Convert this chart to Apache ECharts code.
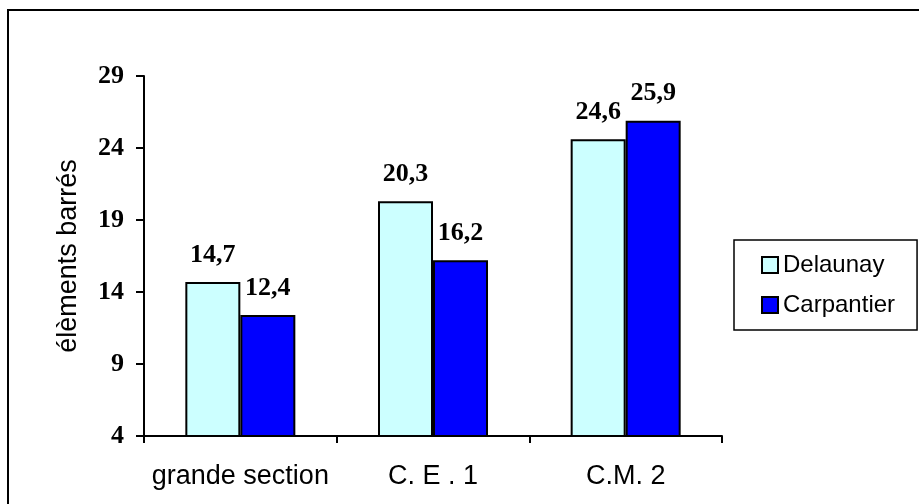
<!DOCTYPE html>
<html>
<head>
<meta charset="utf-8">
<script src="https://cdn.jsdelivr.net/npm/echarts@6/dist/echarts.min.js"></script>
<style>
  html, body { margin: 0; padding: 0; background: #fff; }
  #chart { width: 919px; height: 504px; }
</style>
</head>
<body>
<div id="chart"></div>
<script>
// Classes and results per group
var categories = ['grande section', 'C. E . 1', 'C.M. 2'];
var delaunay = [14.7, 20.3, 24.6];
var carpantier = [12.4, 16.2, 25.9];
var seriesNames = ['Delaunay', 'Carpantier'];
var yAxisName = 'élèments barrés';

function fmt(v) { return String(v).replace('.', ','); }

var labelStyle = {
  show: true,
  position: 'top',
  distance: 14,
  fontFamily: '"Liberation Serif", "Times New Roman", serif',
  fontWeight: 'bold',
  fontSize: 26,
  color: '#000',
  formatter: function (p) { return fmt(p.value); }
};

var chart = echarts.init(document.getElementById('chart'), null, { renderer: 'canvas' });
chart.setOption({
  animation: false,
  backgroundColor: '#fff',
  graphic: [{
    type: 'rect',
    shape: { x: 8, y: 10, width: 1000, height: 600 },
    style: { fill: 'none', stroke: '#000', lineWidth: 2 },
    silent: true
  }],
  grid: { left: 144, top: 76, width: 578, height: 360, containLabel: false },
  legend: {
    orient: 'vertical',
    left: 734,
    top: 240,
    padding: [13, 22, 13, 27],
    itemGap: 16,
    itemWidth: 16,
    itemHeight: 16,
    icon: 'rect',
    borderColor: '#000',
    borderWidth: 1.5,
    backgroundColor: '#fff',
    textStyle: {
      fontFamily: '"Liberation Sans", Arial, sans-serif',
      fontSize: 24,
      color: '#000',
      padding: [0, 0, 0, 0]
    },
    data: seriesNames
  },
  xAxis: {
    type: 'category',
    data: categories,
    axisLine: { lineStyle: { color: '#000', width: 2 } },
    axisTick: { show: true, length: 7, lineStyle: { color: '#000', width: 2 } },
    axisLabel: {
      interval: 0,
      margin: 27,
      fontFamily: '"Liberation Sans", Arial, sans-serif',
      fontSize: 27,
      color: '#000'
    },
    splitLine: { show: false }
  },
  yAxis: {
    type: 'value',
    min: 4,
    max: 29,
    interval: 5,
    name: yAxisName,
    nameLocation: 'middle',
    nameGap: 62,
    nameTextStyle: {
      fontFamily: '"Liberation Sans", Arial, sans-serif',
      fontSize: 27,
      color: '#000'
    },
    axisLine: { show: true, lineStyle: { color: '#000', width: 2 } },
    axisTick: { show: true, length: 8, lineStyle: { color: '#000', width: 2 } },
    axisLabel: {
      margin: 20,
      fontFamily: '"Liberation Serif", "Times New Roman", serif',
      fontWeight: 'bold',
      fontSize: 26,
      color: '#000'
    },
    splitLine: { show: false }
  },
  series: [{
    name: seriesNames[0],
    type: 'bar',
    data: delaunay,
    barWidth: 55,
    barGap: '0%',
    itemStyle: { color: '#CCFFFF', borderColor: '#000', borderWidth: 2 },
    label: labelStyle
  }, {
    name: seriesNames[1],
    type: 'bar',
    data: carpantier,
    barWidth: 55,
    barGap: '0%',
    itemStyle: { color: '#0000FF', borderColor: '#000', borderWidth: 2 },
    label: labelStyle
  }]
});
</script>
</body>
</html>
